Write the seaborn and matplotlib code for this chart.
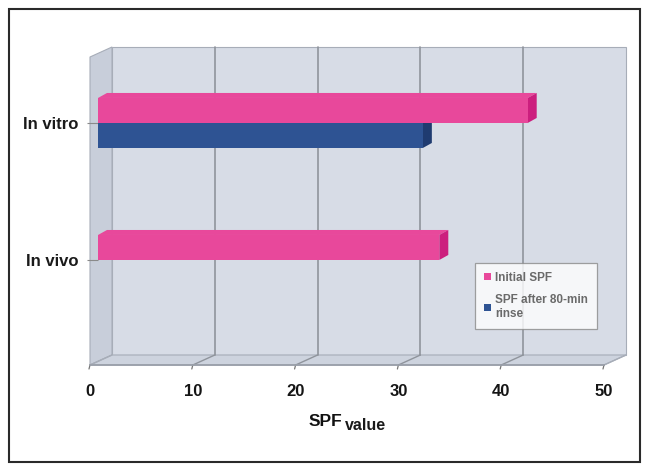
import numpy as np
import pandas as pd
import matplotlib
matplotlib.use("Agg")
import matplotlib.pyplot as plt
import matplotlib.transforms as mtransforms
from matplotlib.patches import Polygon, Rectangle
from matplotlib.lines import Line2D
import seaborn as sns

# ---- data ----
categories = ["In vitro", "In vivo"]
series_names = ["Initial SPF", "SPF after 80-min\nrinse"]
initial_spf = [41.8, 33.2]
after_rinse_spf = [31.6, np.nan]
x_ticks = [0, 10, 20, 30, 40, 50]

df = pd.DataFrame({
    "category": categories * 2,
    "series": [series_names[0]] * 2 + [series_names[1]] * 2,
    "value": initial_spf + after_rinse_spf,
})

sns.set_theme(style="white")
plt.rcParams["font.family"] = ["Liberation Sans", "DejaVu Sans"]

W, H = 648, 469
fig = plt.figure(figsize=(W / 100, H / 100), dpi=100)
fig.patch.set_facecolor("white")
# top-origin pixel transform
px = mtransforms.Affine2D().scale(1, -1).translate(0, H)

# outer frame
fig.add_artist(Rectangle((9, 9), 631, 453, transform=px, fill=False,
                         edgecolor="#2a2a2a", linewidth=1.5))

# bar plane axes (pixels, top origin)
ax_l, ax_r, ax_t, ax_b = 98, 612, 52, 360
ax = fig.add_axes([ax_l / W, 1 - ax_b / H, (ax_r - ax_l) / W, (ax_b - ax_t) / H])
ax.patch.set_visible(False)
for s in ax.spines.values():
    s.set_visible(False)

# depth offsets (pixels) relative to the bar plane
BACK = (14, -5)
FRONT = (-8, 5)

wall_c, side_c, floor_c, edge_c, grid_c = "#d7dce6", "#c8ceda", "#cdd3de", "#a7adb8", "#8f949c"
bx0, bx1 = ax_l + BACK[0], ax_r + BACK[0]
by0, by1 = ax_t + BACK[1], ax_b + BACK[1]
fx0, fx1 = ax_l + FRONT[0], ax_r + FRONT[0]
fy0, fy1 = ax_t + FRONT[1], ax_b + FRONT[1]
fig.add_artist(Polygon([[bx0, by0], [bx1, by0], [bx1, by1], [bx0, by1]], closed=True,
                       transform=px, facecolor=wall_c, edgecolor=edge_c, linewidth=0.8, zorder=-3))
fig.add_artist(Polygon([[fx0, fy0], [bx0, by0], [bx0, by1], [fx0, fy1]], closed=True,
                       transform=px, facecolor=side_c, edgecolor=edge_c, linewidth=0.8, zorder=-3))
fig.add_artist(Polygon([[bx0, by1], [bx1, by1], [fx1, fy1], [fx0, fy1]], closed=True,
                       transform=px, facecolor=floor_c, edgecolor=edge_c, linewidth=0.8, zorder=-3))

pal = {series_names[0]: "#e8489b", series_names[1]: "#2e5393"}
sns.barplot(data=df, y="category", x="value", hue="series", order=categories,
            hue_order=series_names, palette=pal, orient="h", width=0.365,
            saturation=1, ax=ax, edgecolor="none", legend=True)

ax.set_xlim(0, 50)
ax.set_ylim(1.73, -0.518)
ax.set_xticks(x_ticks)
ax.grid(False)

# gridlines on back wall and floor, positioned through the data scale
fig.canvas.draw()
for t in x_ticks:
    xp = ax.transData.transform((t, 0))[0]  # display x (pixels)
    if 0 < t < 50:
        fig.add_artist(Line2D([xp + BACK[0], xp + BACK[0]], [by0, by1], transform=px,
                              color=grid_c, linewidth=1.2, zorder=-2))
    fig.add_artist(Line2D([xp + BACK[0], xp + FRONT[0]], [by1, fy1], transform=px,
                          color=grid_c if 0 < t < 50 else edge_c, linewidth=1.0, zorder=-2))
    fig.add_artist(Line2D([xp + FRONT[0], xp + FRONT[0] - 1], [fy1, fy1 + 4], transform=px,
                          color="#777777", linewidth=0.9, zorder=-2))
fig.add_artist(Line2D([fx0, fx1], [fy1, fy1], transform=px, color="#9aa0aa",
                      linewidth=1.3, zorder=-2))

# shaded end / top faces for the bars
side_colors = {"#e8489b": "#cc1f7e", "#2e5393": "#1f3b70"}
DX, DY = 9, 5
for bar in list(ax.patches):
    w = bar.get_width()
    if not np.isfinite(w) or w <= 0:
        continue
    y0, h = bar.get_y(), bar.get_height()
    fc = matplotlib.colors.to_hex(bar.get_facecolor())
    dark = side_colors.get(fc, fc)
    z = bar.get_zorder() - 0.1
    d = ax.transData.transform(np.array([[0, y0], [w, y0], [w, y0 + h]]))
    top = np.array([d[0], d[1], d[1] + [DX, DY], d[0] + [DX, DY]])
    side = np.array([d[1], d[2], d[2] + [DX, DY], d[1] + [DX, DY]])
    inv = ax.transData.inverted()
    ax.add_patch(Polygon(inv.transform(top), closed=True, facecolor=fc,
                         edgecolor="none", zorder=z))
    ax.add_patch(Polygon(inv.transform(side), closed=True, facecolor=dark,
                         edgecolor="none", zorder=z))

ax.tick_params(axis="x", length=0, pad=17, labelsize=12)
ax.tick_params(axis="y", left=True, length=8, width=0.8, color="#8a8a8a", pad=6, labelsize=12)
shift = mtransforms.ScaledTranslation(FRONT[0] / 100, 0, fig.dpi_scale_trans)
for lbl in ax.get_xticklabels():
    lbl.set_fontweight("bold")
    lbl.set_color("#151515")
    lbl.set_transform(lbl.get_transform() + shift)
for lbl in ax.get_yticklabels():
    lbl.set_fontweight("bold")
    lbl.set_color("#1a1a1a")
ax.set_ylabel("")
ax.set_xlabel("")
fig.text(342, 421, "SPF", transform=px, ha="right", va="center",
         fontsize=12.5, fontweight="bold", color="#111111")
fig.text(345, 425, "value", transform=px, ha="left", va="center",
         fontsize=11.5, fontweight="bold", color="#1a1a1a")

leg = ax.legend(loc="upper left", bbox_to_anchor=(475 / W, 1 - 263 / H),
                bbox_transform=fig.transFigure, borderaxespad=0,
                frameon=True, handlelength=0.6, handleheight=0.6,
                handletextpad=0.35, labelspacing=0.9, borderpad=0.75, fancybox=False,
                prop={"size": 8.5, "weight": "bold"}, labelcolor="#6a6a6a")
leg.get_frame().set_edgecolor("#8a8a8a")
leg.get_frame().set_linewidth(0.9)
leg.get_frame().set_facecolor("white")

fig.savefig("out.png", dpi=100, facecolor="white")
